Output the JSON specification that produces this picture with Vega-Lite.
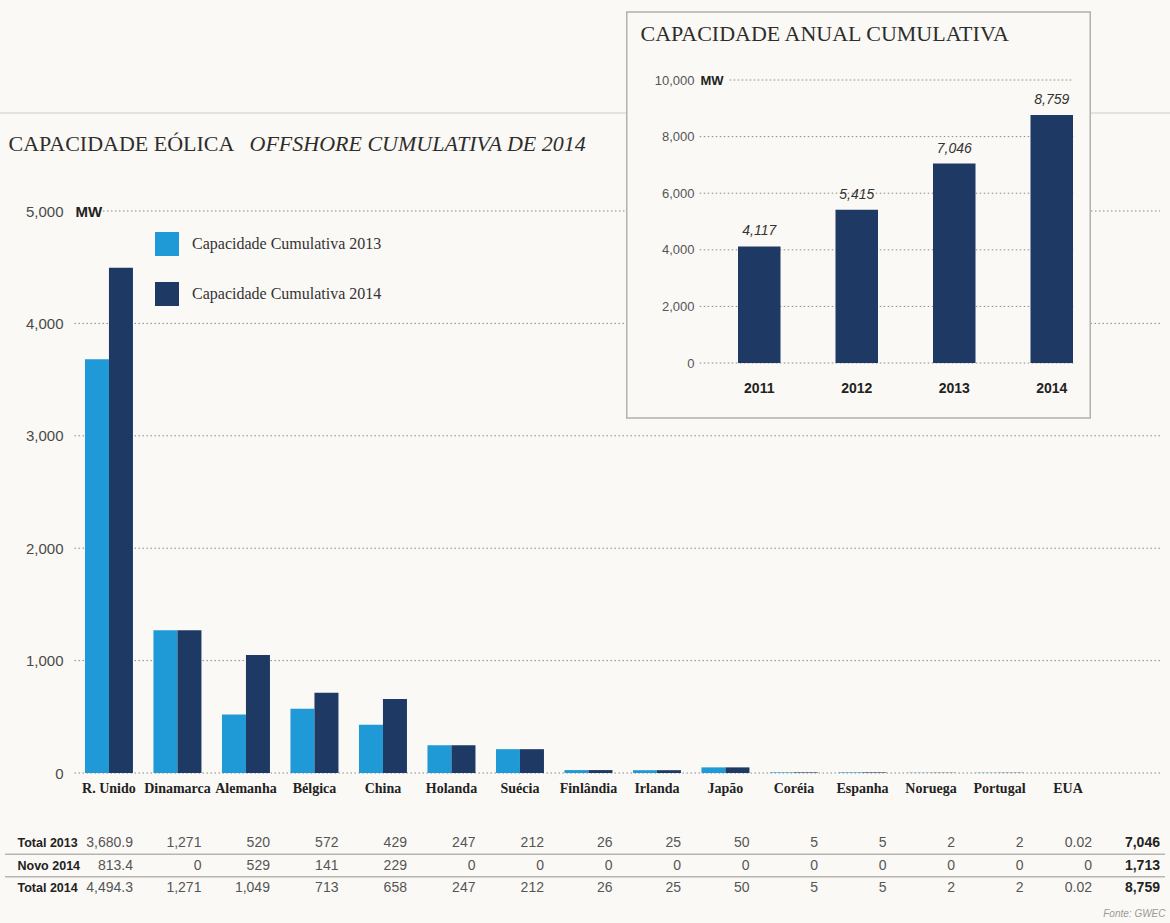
{
  "$schema": "https://vega.github.io/schema/vega-lite/v6.json",
  "width": 1088,
  "height": 562,
  "autosize": {"type": "none"},
  "padding": {"left": 72, "top": 211, "right": 10, "bottom": 150},
  "background": "#fbf9f5",
  "config": {"view": {"stroke": null}},
  "datasets": {
    "paises": [
      {"país": "R. Unido", "Total 2013": 3680.9, "Novo 2014": 813.4, "Total 2014": 4494.3},
      {"país": "Dinamarca", "Total 2013": 1271, "Novo 2014": 0, "Total 2014": 1271},
      {"país": "Alemanha", "Total 2013": 520, "Novo 2014": 529, "Total 2014": 1049},
      {"país": "Bélgica", "Total 2013": 572, "Novo 2014": 141, "Total 2014": 713},
      {"país": "China", "Total 2013": 429, "Novo 2014": 229, "Total 2014": 658},
      {"país": "Holanda", "Total 2013": 247, "Novo 2014": 0, "Total 2014": 247},
      {"país": "Suécia", "Total 2013": 212, "Novo 2014": 0, "Total 2014": 212},
      {"país": "Finlândia", "Total 2013": 26, "Novo 2014": 0, "Total 2014": 26},
      {"país": "Irlanda", "Total 2013": 25, "Novo 2014": 0, "Total 2014": 25},
      {"país": "Japão", "Total 2013": 50, "Novo 2014": 0, "Total 2014": 50},
      {"país": "Coréia", "Total 2013": 5, "Novo 2014": 0, "Total 2014": 5},
      {"país": "Espanha", "Total 2013": 5, "Novo 2014": 0, "Total 2014": 5},
      {"país": "Noruega", "Total 2013": 2, "Novo 2014": 0, "Total 2014": 2},
      {"país": "Portugal", "Total 2013": 2, "Novo 2014": 0, "Total 2014": 2},
      {"país": "EUA", "Total 2013": 0.02, "Novo 2014": 0, "Total 2014": 0.02}
    ],
    "anual": [
      {"ano": "2011", "mw": 4117},
      {"ano": "2012", "mw": 5415},
      {"ano": "2013", "mw": 7046},
      {"ano": "2014", "mw": 8759}
    ],
    "gradePrincipal": [{"v": 0}, {"v": 1000}, {"v": 2000}, {"v": 3000}, {"v": 4000}],
    "gradeAnual": [{"v": 0}, {"v": 2000}, {"v": 4000}, {"v": 6000}, {"v": 8000}],
    "totais": [
      {"linha": "Total 2013", "total": 7046},
      {"linha": "Novo 2014", "total": 1713},
      {"linha": "Total 2014", "total": 8759}
    ]
  },
  "layer": [
    {
      "layer": [
        {
          "layer": [
            {
              "data": {"name": "gradePrincipal"},
              "mark": {"type": "rule", "color": "#8a8a8a", "strokeDash": [1.5, 2.5], "strokeWidth": 1},
              "encoding": {
                "y": {"field": "v", "type": "quantitative",
                  "scale": {"domain": [0, 5000], "nice": false, "zero": true},
                  "axis": {"orient": "left", "values": [0, 1000, 2000, 3000, 4000, 5000], "format": ",d", "grid": false, "domain": false, "ticks": false, "tickSize": 0, "labelPadding": 9, "labelFont": "Liberation Sans", "labelFontSize": 15, "labelColor": "#4a4a4a", "title": "CAPACIDADE EÓLICA", "titleAngle": 0, "titleX": -64, "titleY": -68, "titleAlign": "left", "titleBaseline": "middle", "titleFont": "Liberation Serif", "titleFontSize": 22, "titleFontWeight": "normal", "titleColor": "#2d2d2d"}}
              }
            },
            {
              "data": {"values": [{"v": 5000}]},
              "mark": {"type": "rule", "color": "#8a8a8a", "strokeDash": [1.5, 2.5], "strokeWidth": 1, "xOffset": -6, "x2Offset": 92},
              "encoding": {
                "y": {"field": "v", "type": "quantitative",
                  "scale": {"domain": [0, 5000], "nice": false, "zero": true},
                  "axis": {"orient": "left", "values": [0, 1000, 2000, 3000, 4000, 5000], "format": ",d", "grid": false, "domain": false, "ticks": false, "tickSize": 0, "labelPadding": 9, "labelFont": "Liberation Sans", "labelFontSize": 15, "labelColor": "#4a4a4a", "title": "CAPACIDADE EÓLICA", "titleAngle": 0, "titleX": -64, "titleY": -68, "titleAlign": "left", "titleBaseline": "middle", "titleFont": "Liberation Serif", "titleFontSize": 22, "titleFontWeight": "normal", "titleColor": "#2d2d2d"}},
                "x": {"datum": "R. Unido", "type": "nominal"},
                "x2": {"datum": "EUA"}
              }
            },
            {
              "data": {"name": "paises"},
              "transform": [{"fold": ["Total 2013", "Total 2014"], "as": ["serie", "mw"]}],
              "mark": {"type": "bar"},
              "encoding": {
                "x": {"field": "país", "type": "nominal",
                  "scale": {"domain": ["R. Unido", "Dinamarca", "Alemanha", "Bélgica", "China", "Holanda", "Suécia", "Finlândia", "Irlanda", "Japão", "Coréia", "Espanha", "Noruega", "Portugal", "EUA"], "range": [0, 1088], "paddingInner": 0.2993, "paddingOuter": 0.591, "align": 0.16},
                  "axis": {"orient": "bottom", "domain": false, "ticks": false, "tickSize": 0, "labelPadding": 15, "labelAngle": 0, "labelAlign": "center", "labelFont": "Liberation Serif", "labelFontWeight": "bold", "labelFontSize": 14, "labelColor": "#222222", "labelOverlap": false, "labelBound": false, "title": "OFFSHORE CUMULATIVA DE 2014", "titleX": 177, "titleY": -630, "titleAlign": "left", "titleBaseline": "middle", "titleAngle": 0, "titleFont": "Liberation Serif", "titleFontSize": 22, "titleFontStyle": "italic", "titleFontWeight": "normal", "titleColor": "#2d2d2d"}},
                "xOffset": {"field": "serie", "type": "nominal", "scale": {"domain": ["Total 2013", "Total 2014"], "paddingInner": 0, "paddingOuter": 0}},
                "y": {"field": "mw", "type": "quantitative",
                  "scale": {"domain": [0, 5000], "nice": false, "zero": true},
                  "axis": {"orient": "left", "values": [0, 1000, 2000, 3000, 4000, 5000], "format": ",d", "grid": false, "domain": false, "ticks": false, "tickSize": 0, "labelPadding": 9, "labelFont": "Liberation Sans", "labelFontSize": 15, "labelColor": "#4a4a4a", "title": "CAPACIDADE EÓLICA", "titleAngle": 0, "titleX": -64, "titleY": -68, "titleAlign": "left", "titleBaseline": "middle", "titleFont": "Liberation Serif", "titleFontSize": 22, "titleFontWeight": "normal", "titleColor": "#2d2d2d"}},
                "color": {"field": "serie", "type": "nominal",
                  "scale": {"domain": ["Total 2013", "Total 2014"], "range": ["#1f9ad6", "#1e3a64"]},
                  "legend": {"title": null, "orient": "none", "legendX": 83, "legendY": 21, "padding": 0, "symbolType": "square", "symbolSize": 576, "symbolStrokeWidth": 0, "labelFont": "Liberation Serif", "labelFontSize": 16, "labelColor": "#333333", "labelOffset": 13, "labelLimit": 400, "rowPadding": 26, "labelExpr": "'Capacidade Cumulativa ' + slice(datum.label, 6)"}}
              }
            }
          ]
        },
        {
          "layer": [
            {
              "data": {"values": [{"linha": "Novo 2014"}, {"linha": "Total 2014"}]},
              "mark": {"type": "rule", "color": "#b9b5b0", "strokeWidth": 1.5, "xOffset": -104, "x2Offset": 97},
              "encoding": {
                "y": {"field": "linha", "type": "nominal", "bandPosition": 0,
                  "scale": {"domain": ["Total 2013", "Novo 2014", "Total 2014"], "range": [621, 688], "paddingInner": 0, "paddingOuter": 0},
                  "axis": {"orient": "left", "domain": false, "ticks": false, "tickSize": 0, "grid": false, "labelAlign": "left", "labelPadding": 55, "labelFont": "Liberation Sans", "labelFontWeight": "bold", "labelFontSize": 12.5, "labelColor": "#222222", "title": "MW", "titleX": 3, "titleY": 0, "titleAngle": 0, "titleAlign": "left", "titleBaseline": "middle", "titleFont": "Liberation Sans", "titleFontWeight": "bold", "titleFontSize": 15, "titleColor": "#222222"}},
                "x": {"datum": "R. Unido", "type": "nominal",
                  "axis": {"orient": "bottom", "labels": false, "domain": false, "ticks": false, "grid": false, "title": "Fonte: GWEC", "titleX": 1093, "titleY": 140, "titleAlign": "right", "titleBaseline": "middle", "titleAngle": 0, "titleFont": "Liberation Sans", "titleFontSize": 10, "titleFontStyle": "italic", "titleFontWeight": "normal", "titleColor": "#9a9a9a"}},
                "x2": {"datum": "EUA"}
              }
            },
            {
              "data": {"name": "paises"},
              "transform": [{"fold": ["Total 2013", "Novo 2014", "Total 2014"], "as": ["linha", "mw"]}],
              "mark": {"type": "text", "align": "right", "baseline": "middle", "dx": 24, "font": "Liberation Sans", "fontSize": 14, "color": "#555555"},
              "encoding": {
                "x": {"field": "país", "type": "nominal",
                  "axis": {"orient": "bottom", "labels": false, "domain": false, "ticks": false, "grid": false, "title": "Fonte: GWEC", "titleX": 1093, "titleY": 140, "titleAlign": "right", "titleBaseline": "middle", "titleAngle": 0, "titleFont": "Liberation Sans", "titleFontSize": 10, "titleFontStyle": "italic", "titleFontWeight": "normal", "titleColor": "#9a9a9a"}},
                "y": {"field": "linha", "type": "nominal",
                  "scale": {"domain": ["Total 2013", "Novo 2014", "Total 2014"], "range": [621, 688], "paddingInner": 0, "paddingOuter": 0},
                  "axis": {"orient": "left", "domain": false, "ticks": false, "tickSize": 0, "grid": false, "labelAlign": "left", "labelPadding": 55, "labelFont": "Liberation Sans", "labelFontWeight": "bold", "labelFontSize": 12.5, "labelColor": "#222222", "title": "MW", "titleX": 3, "titleY": 0, "titleAngle": 0, "titleAlign": "left", "titleBaseline": "middle", "titleFont": "Liberation Sans", "titleFontWeight": "bold", "titleFontSize": 15, "titleColor": "#222222"}},
                "text": {"field": "mw", "type": "quantitative", "format": ","}
              }
            },
            {
              "data": {"name": "totais"},
              "mark": {"type": "text", "align": "right", "baseline": "middle", "dx": 92, "font": "Liberation Sans", "fontWeight": "bold", "fontSize": 14, "color": "#222222"},
              "encoding": {
                "x": {"datum": "EUA", "type": "nominal"},
                "y": {"field": "linha", "type": "nominal",
                  "scale": {"domain": ["Total 2013", "Novo 2014", "Total 2014"], "range": [621, 688], "paddingInner": 0, "paddingOuter": 0},
                  "axis": {"orient": "left", "domain": false, "ticks": false, "tickSize": 0, "grid": false, "labelAlign": "left", "labelPadding": 55, "labelFont": "Liberation Sans", "labelFontWeight": "bold", "labelFontSize": 12.5, "labelColor": "#222222", "title": "MW", "titleX": 3, "titleY": 0, "titleAngle": 0, "titleAlign": "left", "titleBaseline": "middle", "titleFont": "Liberation Sans", "titleFontWeight": "bold", "titleFontSize": 15, "titleColor": "#222222"}},
                "text": {"field": "total", "type": "quantitative", "format": ","}
              }
            }
          ]
        }
      ],
      "resolve": {"scale": {"y": "independent"}, "axis": {"x": "independent", "y": "independent"}}
    },
    {
      "layer": [
        {
          "data": {"values": [{"v": 10000}]},
          "mark": {"type": "rule", "color": "#cfcbc5", "strokeWidth": 1.2, "yOffset": 33, "xOffset": -759.5, "x2Offset": 118.5},
          "encoding": {
            "y": {"field": "v", "type": "quantitative", "scale": {"domain": [0, 10000], "range": [152, -131], "nice": false, "zero": true}},
            "x": {"datum": "2011", "type": "nominal"},
            "x2": {"datum": "2014"}
          }
        },
        {
          "data": {"values": [{"v": 0}]},
          "mark": {"type": "rect", "fill": "#fbf9f5", "stroke": "#b4b0aa", "strokeWidth": 1.5, "xOffset": -132.5, "x2Offset": 38.5, "yOffset": -68, "y2Offset": 55},
          "encoding": {
            "x": {"datum": "2011", "type": "nominal"},
            "x2": {"datum": "2014"},
            "y": {"datum": 10000, "type": "quantitative"},
            "y2": {"datum": 0}
          }
        },
        {
          "data": {"name": "gradeAnual"},
          "mark": {"type": "rule", "color": "#8a8a8a", "strokeDash": [1.5, 2.5], "strokeWidth": 1, "xOffset": -59.5, "x2Offset": 21.5},
          "encoding": {
            "y": {"field": "v", "type": "quantitative"},
            "x": {"datum": "2011", "type": "nominal"},
            "x2": {"datum": "2014"}
          }
        },
        {
          "data": {"values": [{"v": 10000}]},
          "mark": {"type": "rule", "color": "#8a8a8a", "strokeDash": [1.5, 2.5], "strokeWidth": 1, "xOffset": -29.5, "x2Offset": 21.5},
          "encoding": {
            "y": {"field": "v", "type": "quantitative"},
            "x": {"datum": "2011", "type": "nominal"},
            "x2": {"datum": "2014"}
          }
        },
        {
          "data": {"name": "anual"},
          "mark": {"type": "bar", "color": "#1e3a64"},
          "encoding": {
            "x": {"field": "ano", "type": "nominal",
              "scale": {"domain": ["2011", "2012", "2013", "2014"], "range": [666, 1001], "paddingInner": 0.5641, "paddingOuter": 0},
              "axis": {"orient": "bottom", "offset": -410, "domain": false, "ticks": false, "tickSize": 0, "grid": false, "labelPadding": 25, "labelAngle": 0, "labelAlign": "center", "labelFont": "Liberation Sans", "labelFontWeight": "bold", "labelFontSize": 14, "labelColor": "#222222", "zindex": 1, "title": "MW", "titleX": 628, "titleY": -283, "titleAlign": "left", "titleBaseline": "middle", "titleAngle": 0, "titleFont": "Liberation Sans", "titleFontWeight": "bold", "titleFontSize": 13, "titleColor": "#222222"}},
            "y": {"field": "mw", "type": "quantitative",
              "scale": {"domain": [0, 10000], "range": [152, -131], "nice": false, "zero": true},
              "axis": {"orient": "left", "offset": -628, "values": [0, 2000, 4000, 6000, 8000, 10000], "format": ",d", "domain": false, "ticks": false, "tickSize": 0, "grid": false, "labelPadding": 6, "labelFont": "Liberation Sans", "labelFontSize": 13, "labelColor": "#555555", "zindex": 1, "title": "CAPACIDADE ANUAL CUMULATIVA", "titleX": -60, "titleY": -178, "titleAlign": "left", "titleBaseline": "middle", "titleAngle": 0, "titleFont": "Liberation Serif", "titleFontSize": 22, "titleFontWeight": "normal", "titleColor": "#2d2d2d"}}
          }
        },
        {
          "data": {"name": "anual"},
          "mark": {"type": "text", "baseline": "middle", "dy": -15, "font": "Liberation Sans", "fontStyle": "italic", "fontSize": 14, "color": "#333333"},
          "encoding": {
            "x": {"field": "ano", "type": "nominal"},
            "y": {"field": "mw", "type": "quantitative"},
            "text": {"field": "mw", "type": "quantitative", "format": ","}
          }
        }
      ]
    }
  ],
  "resolve": {"scale": {"x": "independent", "y": "independent"}, "axis": {"x": "independent", "y": "independent"}}
}
